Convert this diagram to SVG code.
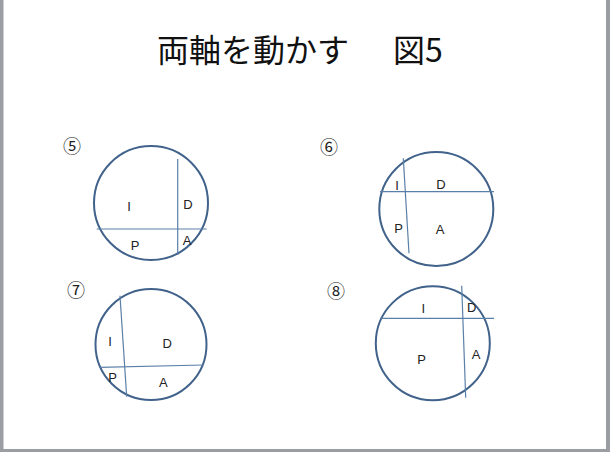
<svg xmlns="http://www.w3.org/2000/svg" width="610" height="452" viewBox="0 0 610 452">
<style>
.c{fill:none;stroke:#41628a;stroke-width:2}
.l{fill:none;stroke:#5b80a8;stroke-width:1.2}
.t{font-family:"Liberation Sans",Arial,sans-serif;font-size:13px;fill:#222;text-anchor:middle}
.n{font-family:"Noto Sans CJK JP",sans-serif;font-size:18px;fill:#222;text-anchor:middle}
.title{font-family:"Noto Sans CJK JP",sans-serif;font-size:32px;fill:#111}
</style>
<rect width="610" height="452" fill="#fff"/>
<rect x="0" y="0" width="3.5" height="452" fill="#9a9ea3"/>
<rect x="606" y="0" width="4" height="452" fill="#9a9ea3"/>
<rect x="0" y="449" width="610" height="3" fill="#9a9ea3"/>
<text class="title" x="157" y="62">両軸を動かす<tspan x="393">図5</tspan></text>
<g id="d5">
<circle class="c" cx="151" cy="203" r="57"/>
<text class="n" x="72" y="152.5">⑤</text>
<text class="t" x="129" y="210.5">I</text>
<text class="t" x="188" y="208.5">D</text>
<text class="t" x="135" y="249.5">P</text>
<text class="t" x="187" y="244.5">A</text>
</g>
<g id="d6">
<circle class="c" cx="436.3" cy="209" r="57"/>
<text class="n" x="329" y="153.5">⑥</text>
<text class="t" x="397" y="189.5">I</text>
<text class="t" x="441" y="188.8">D</text>
<text class="t" x="398.5" y="232.8">P</text>
<text class="t" x="440" y="233.8">A</text>
</g>
<g id="d7">
<circle class="c" cx="151" cy="344.5" r="55.5"/>
<text class="n" x="76" y="296.5">⑦</text>
<text class="t" x="110" y="346.2">I</text>
<text class="t" x="167.3" y="347.8">D</text>
<text class="t" x="112.7" y="382.2">P</text>
<text class="t" x="163.3" y="386.8">A</text>
</g>
<g id="d8">
<circle class="c" cx="432.8" cy="343.2" r="57"/>
<text class="n" x="336" y="297.5">⑧</text>
<text class="t" x="423.3" y="312.8">I</text>
<text class="t" x="471.7" y="312.2">D</text>
<text class="t" x="421.7" y="363.8">P</text>
<text class="t" x="476" y="358.8">A</text>
</g>
<g id="connectors">
<line class="l" x1="177.7" y1="159" x2="177.7" y2="255"/>
<line class="l" x1="96.7" y1="229" x2="206.7" y2="229"/>
<line class="l" x1="380" y1="191.7" x2="494" y2="191.7"/>
<line class="l" x1="403.3" y1="158.3" x2="409" y2="253.3"/>
<line class="l" x1="120" y1="295.7" x2="126.7" y2="396.7"/>
<line class="l" x1="99.3" y1="367.3" x2="203.3" y2="365"/>
<line class="l" x1="380" y1="318.3" x2="494" y2="318.3"/>
<line class="l" x1="461.7" y1="285.7" x2="465.7" y2="397.7"/>
</g>
</svg>
